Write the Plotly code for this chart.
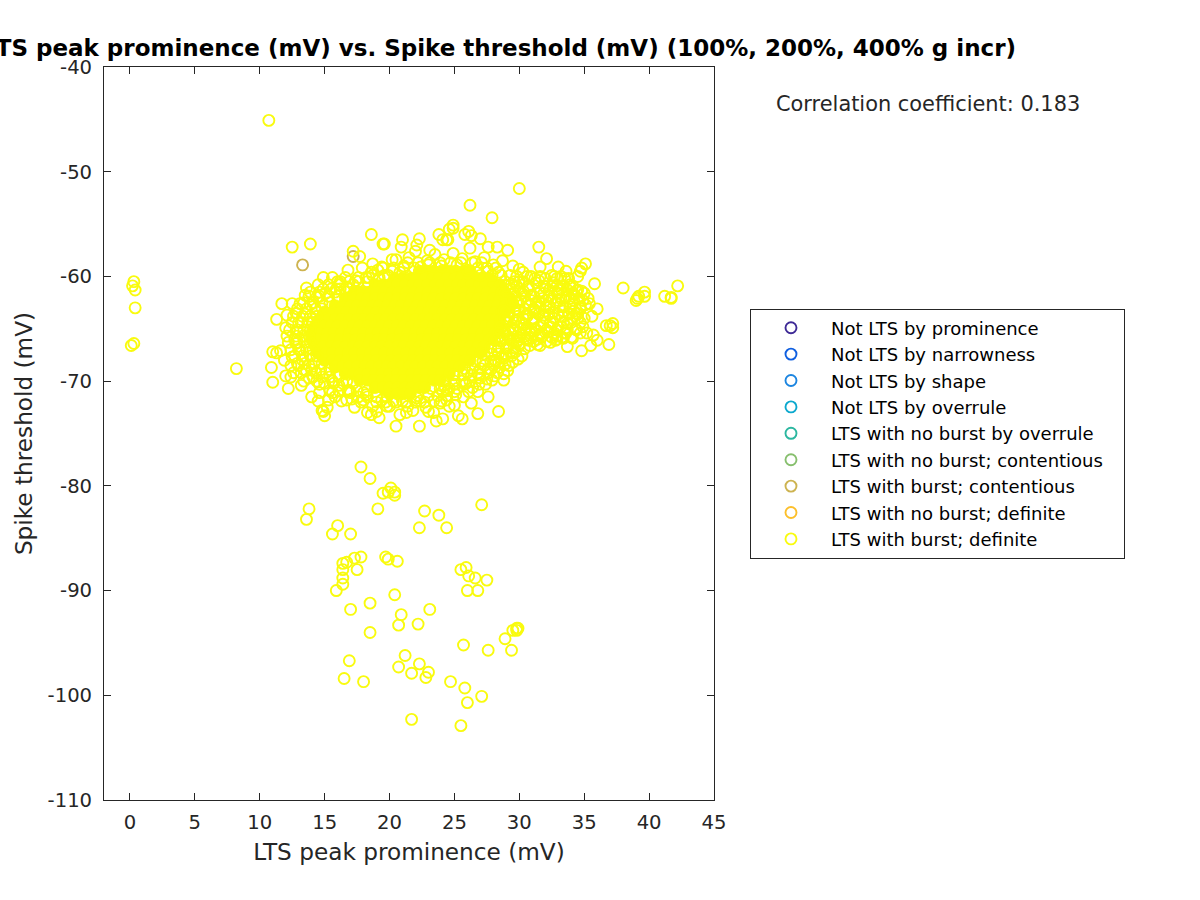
import plotly.graph_objects as go

# Legend names and colours
class_names = ["Not LTS by prominence", "Not LTS by narrowness", "Not LTS by shape", "Not LTS by overrule",
               "LTS with no burst by overrule", "LTS with no burst; contentious", "LTS with burst; contentious",
               "LTS with no burst; definite", "LTS with burst; definite"]
class_colors = ["#3E2A96", "#0F5FE0", "#1C85E0", "#0BA8CE", "#2CB7A0", "#87BF6E", "#CDB350", "#FCBF2B", "#F9FB0E"]

# Axis ticks
x_ticks = [0, 5, 10, 15, 20, 25, 30, 35, 40, 45]
x_labels = ["0", "5", "10", "15", "20", "25", "30", "35", "40", "45"]
y_ticks = [-110, -100, -90, -80, -70, -60, -50, -40]
y_labels = ["-110", "-100", "-90", "-80", "-70", "-60", "-50", "-40"]

# Contentious points
contentious_x = [13.3, 17.2]
contentious_y = [-58.9, -58.1]

# Dense core, read as bands of threshold (mV) with prominence values (mV)
b_59_5 = [22.3, 22.9, 23.4, 24.0, 24.6, 25.1, 25.7, 26.2]
b_60_2 = [20.4, 21.0, 21.6, 22.1, 22.7, 23.3, 23.8, 24.4, 25.0, 25.5, 26.1, 26.7, 27.2, 27.7]
b_60_8 = [18.9, 19.5, 20.1, 20.6, 21.2, 21.8, 22.3, 22.9, 23.5, 24.0, 24.6, 25.2, 25.7, 26.3, 26.9, 27.4, 28.0, 28.5]
b_61_5 = [17.3, 17.9, 18.5, 19.0, 19.6, 20.2, 20.7, 21.3, 21.9, 22.4, 23.0, 23.6, 24.1, 24.7, 25.3, 25.8, 26.4, 27.0, 27.5, 28.1, 28.6, 28.9]
b_62_1 = [16.6, 17.2, 17.8, 18.3, 18.9, 19.5, 20.0, 20.6, 21.2, 21.7, 22.3, 22.9, 23.4, 24.0, 24.6, 25.1, 25.7, 26.3, 26.8, 27.4, 28.0, 28.5, 29.0, 29.3]
b_62_8 = [15.8, 16.4, 17.0, 17.5, 18.1, 18.7, 19.2, 19.8, 20.4, 20.9, 21.5, 22.1, 22.6, 23.2, 23.8, 24.3, 24.9, 25.5, 26.0, 26.6, 27.2, 27.7, 28.3, 28.9, 29.3]
b_63_4 = [15.0, 15.6, 16.2, 16.7, 17.3, 17.9, 18.4, 19.0, 19.6, 20.1, 20.7, 21.3, 21.8, 22.4, 23.0, 23.5, 24.1, 24.7, 25.2, 25.8, 26.4, 26.9, 27.5, 28.1, 28.6, 28.9]
b_64_1 = [14.6, 15.2, 15.8, 16.3, 16.9, 17.5, 18.0, 18.6, 19.2, 19.7, 20.3, 20.9, 21.4, 22.0, 22.6, 23.1, 23.7, 24.3, 24.8, 25.4, 26.0, 26.5, 27.1, 27.7, 28.2, 28.5]
b_64_7 = [14.3, 14.9, 15.5, 16.0, 16.6, 17.2, 17.7, 18.3, 18.9, 19.4, 20.0, 20.6, 21.1, 21.7, 22.3, 22.8, 23.4, 24.0, 24.5, 25.1, 25.7, 26.2, 26.8, 27.4, 27.9, 28.5]
b_65_4 = [14.0, 14.6, 15.2, 15.7, 16.3, 16.9, 17.4, 18.0, 18.6, 19.1, 19.7, 20.3, 20.8, 21.4, 22.0, 22.5, 23.1, 23.7, 24.2, 24.8, 25.4, 25.9, 26.5, 27.1, 27.6, 28.1]
b_66_0 = [14.0, 14.5, 15.1, 15.7, 16.2, 16.8, 17.4, 17.9, 18.5, 19.1, 19.6, 20.2, 20.8, 21.3, 21.9, 22.5, 23.0, 23.6, 24.2, 24.7, 25.3, 25.9, 26.4, 27.0, 27.7]
b_66_7 = [14.3, 14.9, 15.5, 16.0, 16.6, 17.2, 17.7, 18.3, 18.9, 19.4, 20.0, 20.6, 21.1, 21.7, 22.3, 22.8, 23.4, 24.0, 24.5, 25.1, 25.7, 26.2, 26.8, 27.3]
b_67_3 = [14.5, 15.1, 15.6, 16.2, 16.8, 17.3, 17.9, 18.5, 19.0, 19.6, 20.2, 20.7, 21.3, 21.9, 22.4, 23.0, 23.6, 24.1, 24.7, 25.3, 25.8, 26.4, 27.0]
b_68_0 = [15.0, 15.6, 16.2, 16.7, 17.3, 17.9, 18.4, 19.0, 19.6, 20.1, 20.7, 21.3, 21.8, 22.4, 23.0, 23.5, 24.1, 24.7, 25.2, 25.8, 26.2]
b_68_6 = [15.8, 16.4, 16.9, 17.5, 18.1, 18.6, 19.2, 19.8, 20.3, 20.9, 21.5, 22.0, 22.6, 23.2, 23.7, 24.3, 24.9, 25.4]
b_69_3 = [16.6, 17.2, 17.7, 18.3, 18.9, 19.4, 20.0, 20.6, 21.1, 21.7, 22.3, 22.8, 23.4, 24.0, 24.6]
b_69_9 = [17.7, 18.3, 18.8, 19.4, 20.0, 20.5, 21.1, 21.7, 22.2, 22.8, 23.4, 23.9]
b_70_6 = [18.9, 19.5, 20.0, 20.6, 21.2, 21.7, 22.3, 22.7]
b_71_2 = [20.0, 20.6, 21.1, 21.6]
core_levels = [-59.5, -60.2, -60.8, -61.5, -62.1, -62.8, -63.4, -64.1, -64.7, -65.4, -66.0, -66.7, -67.3, -68.0, -68.6, -69.3, -69.9, -70.6, -71.2]
core_bands = [b_59_5, b_60_2, b_60_8, b_61_5, b_62_1, b_62_8, b_63_4, b_64_1, b_64_7, b_65_4, b_66_0, b_66_7, b_67_3, b_68_0, b_68_6, b_69_3, b_69_9, b_70_6, b_71_2]

# Ring of overlapping circles around the core, by threshold (mV)
ring_levels = [-60.5, -61.2, -61.9, -62.5, -63.1, -63.8, -64.4, -65.1, -65.7, -66.3, -67.0, -67.6, -68.3, -68.9, -69.6, -70.2, -70.9, -71.5, -72.0,
               -71.4, -70.7, -70.0, -69.4, -68.8, -68.1, -67.4, -66.8, -66.1,
               -58.7, -59.2, -59.9, -60.5, -61.2, -61.9, -62.5, -63.1, -63.8, -64.4, -65.0, -65.7,
               -60.2, -61.3, -62.1, -62.9, -63.6, -64.4, -65.1, -65.8, -66.6,
               -60.0, -60.9, -61.6, -62.3, -63.3, -64.0, -64.8, -65.4, -66.0, -67.6, -68.5, -69.2, -70.3, -71.0,
               -71.9, -72.4, -71.8, -71.1, -70.0, -69.2, -68.5, -61.5, -60.8, -60.1]
ring_rows = [[16.0, 16.9, 17.6, 18.3], [14.9, 15.5, 16.2, 16.9], [13.8, 14.6, 15.3, 16.0], [13.4, 14.1, 14.8, 15.4], [12.9, 13.6, 14.3, 14.8],
             [12.6, 13.3, 13.9, 14.4], [12.5, 13.0, 13.7, 14.1], [12.3, 12.9, 13.4, 13.9], [12.1, 12.8, 13.3, 13.8], [12.2, 12.9, 13.5, 13.9],
             [12.4, 13.0, 13.6, 14.1], [12.7, 13.3, 13.9, 14.4], [12.9, 13.5, 14.2, 14.8], [13.4, 14.0, 14.7, 15.4], [14.1, 14.8, 15.4, 16.1],
             [15.0, 15.7, 16.4, 17.2], [16.1, 16.9, 17.5, 18.3], [17.6, 18.3, 19.0, 19.8], [19.0, 19.7, 20.5, 21.3, 22.0, 22.7],
             [22.2, 23.0, 23.7, 24.4], [23.2, 23.9, 24.6, 25.2], [24.3, 25.0, 25.6, 26.2], [25.0, 25.7, 26.3, 26.9], [25.8, 26.4, 27.0, 27.6],
             [26.6, 27.2, 27.8, 28.2], [27.3, 27.9, 28.4, 29.0], [27.8, 28.4, 29.0, 29.6], [28.1, 28.7, 29.3, 29.9],
             [21.4, 22.2, 23.1, 23.9, 24.7, 25.5, 26.4, 27.1], [19.5, 20.3, 21.1, 21.9, 26.8, 27.5, 28.2], [18.7, 19.6, 27.0, 27.9, 28.6, 29.3],
             [28.9, 29.6, 30.3], [29.3, 30.0, 30.7], [29.7, 30.4, 31.1], [29.9, 30.6, 31.3], [29.7, 30.4, 31.1], [29.2, 29.9, 30.6], [29.0, 29.6, 30.2],
             [28.8, 29.5, 30.1], [28.5, 29.1, 29.8],
             [31.2, 32.0, 32.9, 33.8], [32.3, 33.0, 33.7, 34.5], [31.8, 32.5, 33.2, 33.9, 34.6], [31.6, 32.3, 33.1, 33.9, 34.7],
             [31.5, 32.3, 33.0, 33.8, 34.5], [31.0, 31.8, 32.6, 33.4, 34.0, 34.7], [30.5, 31.3, 32.1, 32.9, 33.7, 34.4],
             [30.0, 30.9, 31.7, 32.5, 33.3, 34.0], [29.2, 30.0, 30.8, 31.6],
             [29.8, 30.6, 31.6, 32.7, 33.2], [29.0, 29.8, 31.9, 32.6, 33.4, 34.1], [28.9, 30.2, 31.9, 32.9, 34.1, 35.0], [29.4, 30.9, 32.0, 33.0, 34.2, 34.9],
             [28.8, 30.0, 31.1, 32.0, 33.4, 34.2], [28.9, 30.3, 31.1, 32.0, 32.7, 34.1, 35.0], [28.6, 29.9, 30.6, 31.5, 32.4, 33.2],
             [28.4, 29.3, 30.8, 31.7, 32.7, 33.6, 34.7], [28.3, 29.6, 30.5, 31.4, 32.9], [28.7, 29.4, 30.2], [27.3, 28.0, 29.2], [26.0, 26.8, 27.6, 28.3],
             [25.0, 25.8, 26.9, 27.4], [24.1, 25.0, 26.1], [21.0, 22.4, 23.4, 24.0], [18.7, 20.0, 21.4, 24.6], [15.3, 16.7, 18.0, 19.4],
             [14.6, 15.6, 17.0, 18.0], [13.4, 14.4, 15.6, 16.7], [12.6, 13.2, 14.3, 15.1], [12.4, 13.0, 13.8], [13.9, 14.6, 15.8],
             [14.5, 15.3, 16.1, 17.2], [16.6, 17.6, 18.4, 19.2]]

# Separately visible points
left_x = [0.3, 0.2, 0.4, 0.4, 0.1, 0.3, 8.2, 10.7]
left_y = [-60.5, -60.9, -61.3, -63.0, -66.6, -66.4, -68.8, -45.1]

upper_x = [26.2, 30.0, 27.9, 26.1, 25.8, 26.3, 24.9, 24.6, 24.9, 24.1, 24.5, 12.5, 13.9, 17.2, 18.6, 19.6, 19.5, 21.0, 20.9, 22.3, 22.1, 22.0, 23.8, 23.1, 24.4, 26.2, 27.0, 27.6, 28.3, 29.1, 30.0, 31.5, 32.1, 31.6, 33.0, 35.1, 34.8, 34.7, 34.5, 35.8]
upper_y = [-53.2, -51.6, -54.4, -55.7, -56.0, -56.1, -55.1, -55.5, -55.4, -56.5, -56.5, -57.2, -56.9, -57.6, -56.0, -56.9, -56.9, -56.5, -57.2, -56.4, -57.0, -57.6, -56.0, -57.5, -56.5, -57.3, -56.4, -57.2, -57.2, -57.5, -59.3, -57.2, -58.3, -59.1, -59.1, -58.8, -59.2, -59.5, -60.0, -60.7]

far_right_x = [38.0, 42.2, 41.2, 41.7, 41.7, 39.65, 39.65, 39.2, 39.0, 39.1, 37.2, 36.7, 37.2, 37.0, 36.9]
far_right_y = [-61.1, -60.9, -61.9, -62.0, -62.1, -61.5, -61.9, -61.9, -62.3, -62.1, -64.5, -64.7, -64.9, -64.7, -66.5]

rim_right_x = [33.7, 34.8, 35.5, 36.0, 35.7, 36.0, 35.4, 35.3, 35.1, 35.6, 34.9, 35.2, 34.4, 32.4, 31.1, 30.6, 29.8, 29.9, 29.5, 28.9, 28.4, 28.8, 27.9, 27.0, 27.6, 26.8, 26.3, 28.4, 26.8, 25.6, 25.3, 24.1, 25.0, 24.4, 25.7]
rim_right_y = [-66.7, -67.1, -66.6, -66.1, -65.6, -63.1, -62.6, -62.1, -62.7, -63.8, -64.8, -65.4, -63.5, -66.3, -66.2, -66.0, -66.3, -67.9, -67.3, -68.4, -68.2, -69.9, -69.9, -69.7, -71.5, -71.0, -72.1, -72.9, -73.1, -73.6, -73.3, -73.6, -72.3, -71.8, -71.5]

rim_left_x = [11.7, 12.5, 11.3, 12.1, 12.0, 11.0, 11.6, 11.3, 11.9, 10.9, 11.0, 12.2, 12.0, 12.4, 13.2, 13.6, 13.5, 14.9, 15.6, 16.2, 16.8, 17.7, 18.7, 19.1, 20.2, 20.5, 12.8, 12.5, 12.8, 13.1]
rim_left_y = [-62.6, -62.6, -64.1, -63.7, -64.9, -67.2, -67.1, -67.3, -68.0, -68.7, -70.1, -70.7, -69.5, -69.6, -70.4, -61.1, -61.8, -60.1, -60.1, -60.5, -59.4, -58.1, -58.8, -59.4, -59.5, -58.4, -66.4, -67.7, -63.5, -62.6]

rim_bottom_x = [15.0, 14.9, 15.2, 14.8, 14.0, 14.5, 16.3, 17.3, 17.1, 18.3, 18.6, 19.0, 19.2, 20.5, 20.8, 21.3, 22.3, 21.8, 23.0, 23.4, 23.6, 22.8, 19.8, 17.8, 15.8, 16.8, 23.9, 24.5, 25.1, 25.9, 26.4, 24.2, 22.1, 20.3, 18.2, 16.1, 14.6, 13.8, 13.6, 15.4]
rim_bottom_y = [-73.3, -72.9, -72.5, -72.8, -71.5, -71.9, -71.9, -72.5, -71.7, -73.0, -73.2, -72.9, -73.5, -74.3, -73.2, -73.0, -74.3, -72.8, -72.9, -73.0, -73.8, -72.5, -72.4, -72.0, -71.5, -70.9, -72.1, -70.9, -71.3, -70.2, -70.6, -70.4, -71.6, -71.9, -71.3, -70.4, -70.3, -69.7, -69.0, -70.9]

rim_top_x = [21.5, 22.9, 23.5, 24.2, 24.9, 25.6, 26.6, 27.3, 28.0, 28.7, 29.5, 30.3, 30.9, 31.5, 32.5, 33.5, 33.9, 32.9, 33.6, 20.2, 19.4, 18.6, 17.9, 18.2, 17.4, 16.7, 15.9, 15.1, 14.4, 13.9, 13.5, 13.2, 12.9, 12.7, 13.1, 13.3, 21.1, 22.4, 23.0, 24.0, 25.2, 26.0, 27.6, 28.4, 19.9, 20.8]
rim_top_y = [-58.2, -58.5, -57.9, -58.4, -57.8, -58.3, -58.6, -58.2, -58.9, -58.5, -59.0, -59.6, -60.0, -60.4, -59.9, -60.2, -60.8, -60.9, -59.5, -58.4, -59.1, -59.6, -59.2, -60.1, -60.4, -61.0, -61.2, -61.6, -62.0, -62.7, -63.6, -64.4, -65.3, -66.0, -67.0, -68.0, -59.0, -59.1, -58.9, -59.0, -58.9, -59.4, -59.5, -59.6, -59.9, -59.6]

spread_right_x = [29.4, 30.0, 30.7, 31.3, 32.0, 32.6, 33.2, 33.9, 34.4, 29.6, 30.3, 30.9, 31.6, 32.3, 33.0, 33.6, 34.2, 34.8, 29.5, 30.1, 30.8, 31.5, 32.1, 32.8, 33.4, 34.1, 34.7, 29.2, 29.9, 30.6, 31.2, 31.9, 32.6, 33.3, 33.8, 34.5, 29.1, 29.7, 30.4, 31.1, 31.7, 32.4, 33.0, 33.7, 34.3, 28.9, 29.5, 30.2, 30.9, 31.6, 32.2, 32.9, 33.5, 34.1, 28.6, 29.3, 30.0, 30.7, 31.4, 32.1, 32.8, 33.4, 28.3, 29.0, 29.7, 30.4, 31.2, 28.1, 28.8, 29.5, 27.8, 28.5, 29.1, 27.5, 28.1, 28.8]
spread_right_y = [-60.7, -60.5, -60.9, -60.6, -61.0, -60.6, -61.2, -61.0, -61.4, -61.6, -61.4, -61.8, -61.5, -61.9, -61.6, -62.0, -61.7, -61.4, -62.6, -62.3, -62.7, -62.4, -62.8, -62.5, -62.9, -62.6, -63.1, -63.4, -63.2, -63.6, -63.3, -63.7, -63.4, -63.8, -63.5, -64.0, -64.4, -64.2, -64.6, -64.3, -64.7, -64.4, -64.8, -64.5, -65.0, -65.3, -65.1, -65.5, -65.2, -65.6, -65.3, -65.7, -65.4, -65.9, -66.2, -66.0, -66.4, -66.1, -66.5, -66.2, -66.1, -65.9, -67.1, -66.9, -67.2, -66.9, -65.0, -68.0, -67.8, -68.2, -68.9, -68.7, -69.0, -69.8, -69.5, -69.3]

lower_x = [17.8, 18.5, 19.5, 20.1, 19.9, 20.4, 20.4, 19.1, 13.8, 13.6, 16.0, 15.6, 17.0, 22.7, 23.8, 22.3, 24.4, 27.1, 16.4, 17.3, 17.8, 17.5, 16.7, 16.4, 16.4, 16.4, 15.9, 19.7, 19.9, 20.6, 25.5, 25.9, 26.1, 26.6, 27.5, 26.0, 26.8, 20.4, 18.5, 17.0, 23.1, 20.9, 20.7, 22.2, 18.5, 28.9, 29.5, 29.8, 29.9, 29.8, 25.7, 27.6, 29.4, 21.2, 16.9, 22.3, 23.0, 22.8, 20.7, 21.7, 16.5, 18.0, 24.7, 25.8, 27.1, 26.0, 21.7, 25.5]
lower_y = [-78.2, -79.3, -80.7, -80.2, -80.6, -80.6, -80.9, -82.2, -82.2, -83.2, -83.8, -84.6, -84.6, -82.4, -82.8, -84.0, -84.0, -81.8, -87.4, -86.9, -86.8, -88.0, -87.3, -88.0, -88.8, -89.4, -90.0, -86.8, -87.0, -87.2, -88.0, -87.8, -88.6, -88.8, -89.0, -90.0, -90.0, -90.4, -91.2, -91.8, -91.8, -92.3, -93.3, -93.2, -94.0, -94.6, -93.8, -93.6, -93.6, -93.8, -95.2, -95.7, -95.7, -96.2, -96.7, -97.0, -97.8, -98.3, -97.3, -97.9, -98.4, -98.7, -98.7, -99.3, -100.1, -100.7, -102.3, -102.9]

core_x = [v for band in core_bands for v in band]
core_y = [lvl for lvl, band in zip(core_levels, core_bands) for _ in band]
ring_x = [v for row in ring_rows for v in row]
ring_y = [lvl for lvl, row in zip(ring_levels, ring_rows) for _ in row]
def_x = left_x + upper_x + far_right_x + rim_right_x + rim_left_x + rim_bottom_x + rim_top_x + spread_right_x + lower_x + ring_x
def_y = left_y + upper_y + far_right_y + rim_right_y + rim_left_y + rim_bottom_y + rim_top_y + spread_right_y + lower_y + ring_y

INK = "#262626"
FONT = "DejaVu Sans"
fig = go.Figure()
for name, color in zip(class_names, class_colors):
    if name == "LTS with burst; contentious":
        xs, ys = contentious_x, contentious_y
    elif name == "LTS with burst; definite":
        continue
    else:
        xs, ys = [None], [None]
    fig.add_trace(go.Scatter(x=xs, y=ys, mode="markers", name=name,
                             marker=dict(symbol="circle-open", size=11, color=color, line=dict(width=1.9, color=color))))
fig.add_trace(go.Scatter(x=core_x, y=core_y, mode="markers", showlegend=False, hoverinfo="skip",
                         marker=dict(symbol="circle", size=12, color=class_colors[-1], line=dict(width=1, color=class_colors[-1]))))
fig.add_trace(go.Scatter(x=def_x, y=def_y, mode="markers", name=class_names[-1],
                         marker=dict(symbol="circle-open", size=11, color=class_colors[-1], line=dict(width=1.9, color=class_colors[-1]))))

axis_common = dict(showgrid=False, zeroline=False, showline=True, linecolor=INK, linewidth=1, mirror="ticks",
                   ticks="inside", ticklen=7, tickcolor=INK, tickwidth=1, tickfont=dict(family=FONT, size=19.6, color=INK))
fig.update_xaxes(range=[-2, 45], tickvals=x_ticks, ticktext=x_labels, ticklabelstandoff=4,
                 title=dict(text="LTS peak prominence (mV)", font=dict(family=FONT, size=23.2, color=INK), standoff=11), **axis_common)
fig.update_yaxes(range=[-110, -40], tickvals=y_ticks, ticktext=y_labels, ticklabelstandoff=7,
                 title=dict(text="Spike threshold (mV)", font=dict(family=FONT, size=23.2, color=INK), standoff=8), **axis_common)

fig.update_layout(
    width=1200, height=900, paper_bgcolor="white", plot_bgcolor="white",
    margin=dict(l=104, r=486, t=67, b=100, autoexpand=False),
    font=dict(family=FONT, color=INK),
    title=dict(text="<b>LTS peak prominence (mV) vs. Spike threshold (mV) (100%, 200%, 400% g incr)</b>",
               font=dict(family=FONT, size=23, color="black"), xref="container", yref="container",
               x=0.8467, xanchor="right", y=0.9467, yanchor="middle"),
    legend=dict(orientation="h", x=1.059, y=0.6705, xanchor="left", yanchor="top", bordercolor=INK, borderwidth=1, bgcolor="white",
                font=dict(family=FONT, size=18, color="black"), itemwidth=70, entrywidth=288, entrywidthmode="pixels",
                tracegroupgap=0),
    annotations=[dict(text="Correlation coefficient: 0.183", xref="paper", yref="paper", x=1.0983, y=0.9495,
                      xanchor="left", yanchor="middle", showarrow=False, font=dict(family=FONT, size=20.9, color=INK))],
)
fig.write_html("out.html", config={"displayModeBar": False}, post_script="document.body.style.margin='0';")
